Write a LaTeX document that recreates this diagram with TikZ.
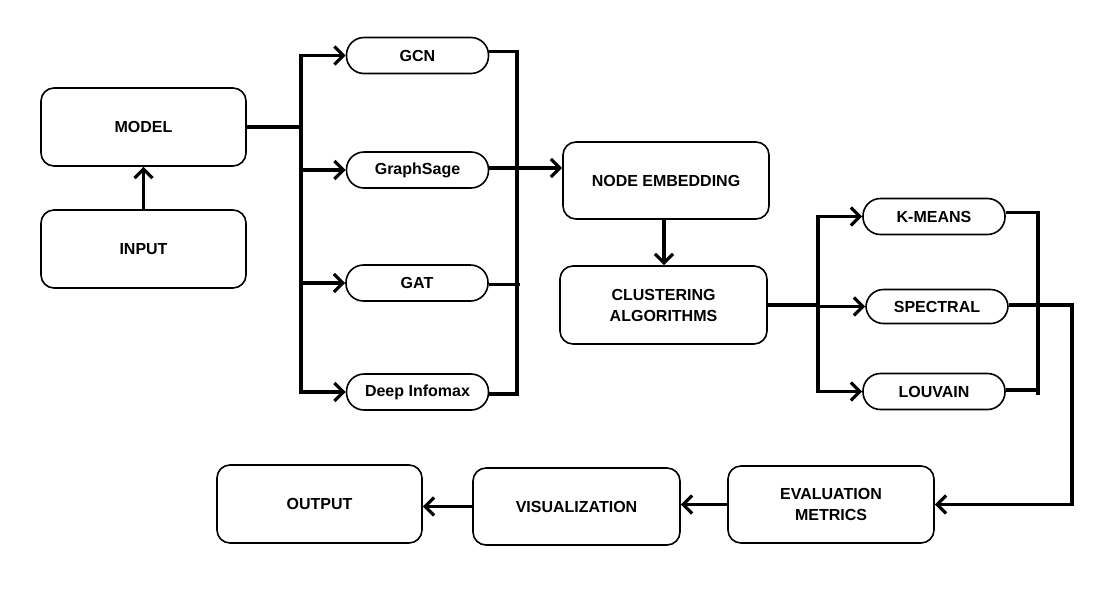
\documentclass[tikz,border=0pt]{standalone}
\usepackage{fontspec}
\setmainfont{Liberation Sans}
\usetikzlibrary{arrows.meta,calc}
\begin{document}
\begin{tikzpicture}[x=1pt,y=-1pt,
  box/.style={draw=black,line width=1.6pt,rounded corners=13pt,minimum width=205pt,minimum height=78pt,inner sep=0pt,align=center,font=\fontsize{16}{21}\selectfont\bfseries},
  pill/.style={draw=black,line width=1.6pt,rounded corners=17.5pt,minimum width=142pt,minimum height=36pt,inner sep=0pt,align=center,font=\fontsize{16}{18}\selectfont\bfseries},
  wire/.style={line width=3.4pt},
  arr/.style={line width=3.4pt,-{Straight Barb[length=9pt,width=18pt,line width=3.2pt]}}]
\useasboundingbox (0,0) rectangle (1119,606);
% boxes
\node[box] (model) at (143.5,127) {MODEL};
\node[box] (input) at (143.5,249) {INPUT};
\node[pill] (gcn) at (417.5,55.5) {GCN};
\node[pill] (gs) at (417.5,170) {GraphSage};
\node[pill] (gat) at (417,283) {GAT};
\node[pill] (dim) at (417.5,392) {Deep Infomax};
\node[box,minimum width=206pt,minimum height=77pt] (ne) at (666,180.5) {NODE EMBEDDING};
\node[box,minimum width=207pt] (cl) at (663.5,305) {CLUSTERING\\ALGORITHMS};
\node[pill] (km) at (934,216.5) {K-MEANS};
\node[pill,minimum height=34pt] (sp) at (937,306.5) {SPECTRAL};
\node[pill] (lv) at (934,391.5) {LOUVAIN};
\node[box,minimum width=206pt,minimum height=77pt] (ev) at (831,504.5) {EVALUATION\\METRICS};
\node[box,minimum width=207pt,minimum height=77pt] (vis) at (576.5,506.5) {VISUALIZATION};
\node[box,minimum width=205pt,minimum height=78pt] (out) at (319.5,504) {OUTPUT};
% bus coordinates
\coordinate (b1) at (301,0);
\coordinate (b2) at (517,0);
\coordinate (b3) at (818,0);
\coordinate (b4) at (1038,0);
\coordinate (b5) at (1072,0);
% input -> model
\draw[arr] (input.north) -- (model.south);
% model -> first bus
\draw[wire] (model.east) -- (model.east -| b1);
\draw[wire] ($(gcn.west -| b1)+(0,-1.7)$) -- ($(dim.west -| b1)+(0,1.7)$);
\draw[arr] (gcn.west -| b1) -- (gcn.west);
\draw[arr] (gs.west -| b1) -- (gs.west);
\draw[arr] (gat.west -| b1) -- (gat.west);
\draw[arr] (dim.west -| b1) -- (dim.west);
% right bus of models
\draw[wire] ([yshift=4pt]gcn.east) -- ([yshift=4pt]gcn.east -| b2);
\draw[wire] ([yshift=-1.5pt]gat.east) -- ([yshift=-1.5pt,xshift=3pt]gat.east -| b2);
\draw[wire] ([yshift=-2pt]dim.east) -- ([yshift=-2pt]dim.east -| b2);
\draw[wire] ($([yshift=4pt]gcn.east -| b2)+(0,-1.7)$) -- ($([yshift=-2pt]dim.east -| b2)+(0,1.7)$);
% graphsage -> node embedding
\draw[arr] ([yshift=2pt]gs.east) -- ([yshift=2pt]gs.east -| ne.west);
% node embedding -> clustering
\draw[arr] ([xshift=-2pt]ne.south) -- ([xshift=-2pt]ne.south |- cl.north);
% clustering -> second bus
\draw[wire] (cl.east) -- (cl.east -| b3);
\draw[wire] ($(km.west -| b3)+(0,-1.7)$) -- ($(lv.west -| b3)+(0,1.7)$);
\draw[arr] (km.west -| b3) -- (km.west);
\draw[arr] (sp.west -| b3) -- (sp.west);
\draw[arr] (lv.west -| b3) -- (lv.west);
% right bus of clustering
\draw[wire] ([yshift=4pt]km.east) -- ([yshift=4pt]km.east -| b4);
\draw[wire] ([yshift=1.5pt]lv.east) -- ([yshift=1.5pt]lv.east -| b4);
\draw[wire] ($([yshift=4pt]km.east -| b4)+(0,-1.7)$) -- ($([yshift=1.5pt]lv.east -| b4)+(0,5)$);
% spectral -> evaluation
\draw[arr] ([yshift=1.5pt]sp.east) -- ([yshift=1.5pt]sp.east -| b5) |- (ev.east);
% evaluation -> visualization -> output
\draw[arr] (ev.west) -- (ev.west -| vis.east);
\draw[arr] (vis.west) -- (vis.west -| out.east);
\end{tikzpicture}
\end{document}
